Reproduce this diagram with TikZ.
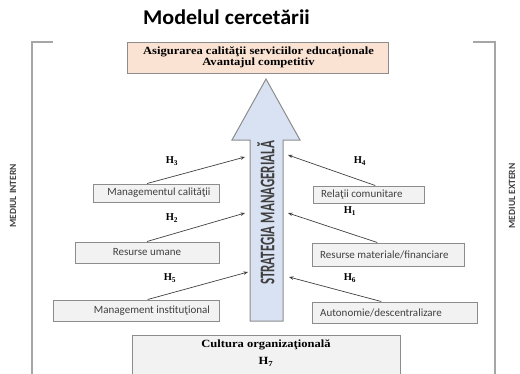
\documentclass[tikz,border=0pt]{standalone}
\usepackage{fontspec}
\setmainfont{Liberation Serif}
\newfontfamily\calfont{Carlito}
\usetikzlibrary{calc,arrows.meta}
\definecolor{boxgray}{HTML}{F2F2F2}
\definecolor{edgegray}{HTML}{8C8C8C}
\definecolor{peach}{HTML}{FBE3D4}
\definecolor{arrowblue}{HTML}{D9E2F2}
\definecolor{txtgray}{HTML}{404040}
\definecolor{linegray}{HTML}{A6A6A6}
\begin{document}
\begin{tikzpicture}[x=1pt,y=-1pt,
  smallbox/.style={draw=edgegray, line width=1pt, fill=boxgray, inner sep=0pt},
  boxtext/.style={font=\calfont\fontsize{11}{12}\selectfont, text=txtgray, inner sep=0pt},
  hlab/.style={font=\bfseries\fontsize{10.5}{11}\selectfont, inner sep=0pt},
  conn/.style={-{Stealth[length=4.5pt,width=3.5pt]}, line width=0.7pt, draw=black!75},
  sidelab/.style={rotate=90, font=\calfont\bfseries\fontsize{9.5}{10}\selectfont, text=txtgray, inner sep=0pt},
  bracket/.style={draw=linegray, line width=1.2pt}
]
\clip (0,0) rectangle (520,373);
\useasboundingbox (0,0) rectangle (520,373);

% title
\node[font=\calfont\bfseries\fontsize{21}{23}\selectfont, inner sep=0pt] (title) at (226.5,17) {\scalebox{1.05}[1]{Modelul cercetării}};

% brackets
\draw[bracket] (53,42) -- (32,42) -- (32,380);
\draw[bracket] (473,42) -- (495,42) -- (495,380);
\node[sidelab] (intern) at (13,196) {MEDIUL INTERN};
\node[sidelab] (extern) at (512,196) {MEDIUL EXTERN};

% top box
\node[draw=edgegray, line width=1pt, fill=peach, minimum width=261pt, minimum height=31pt, inner sep=0pt] (top) at (257.5,57.5) {};
\node[font=\bfseries\fontsize{11}{10}\selectfont, align=center, inner sep=0pt] (toptext) at (258.5,57.5) {\scalebox{1.14}[1]{Asigurarea calităţii serviciilor educaţionale}\\\scalebox{1.14}[1]{Avantajul competitiv}};

% big arrow
\draw[draw=edgegray, line width=1pt, fill=arrowblue] (250,321) -- (250,140) -- (232,140) -- (266,79) -- (300,140) -- (283,140) -- (283,321) -- cycle;
\node[rotate=90, font=\calfont\bfseries\fontsize{13}{14}\selectfont, text=txtgray, inner sep=0pt] (strat) at (266,213) {\scalebox{1}[1.6]{STRATEGIA MANAGERIALĂ}};

% tips on arrow
\coordinate (t3) at (245,157);
\coordinate (t2) at (245,213);
\coordinate (t5) at (248,272);
\coordinate (t4) at (288,155);
\coordinate (t1) at (288,213);
\coordinate (t6) at (289,277);

% left boxes
\node[smallbox, minimum width=126pt, minimum height=18pt] (mc) at (156,193) {};
\node[boxtext] (mct) at (159,193) {Managementul calităţii};
\node[smallbox, minimum width=144pt, minimum height=21pt] (ru) at (147,252.5) {};
\node[boxtext] (rut) at (147,252.5) {Resurse umane};
\node[smallbox, minimum width=166pt, minimum height=21pt] (mi) at (136,310.5) {};
\node[boxtext] (mit) at (152,310.5) {Management instituţional};

% right boxes
\node[smallbox, minimum width=111pt, minimum height=17pt] (rc) at (368.5,194.5) {};
\node[boxtext, anchor=west] (rct) at (321,194.5) {Relaţii comunitare};
\node[smallbox, minimum width=152pt, minimum height=23pt] (rm) at (388,254.5) {};
\node[boxtext, anchor=west] (rmt) at (320,254.5) {Resurse materiale/financiare};
\node[smallbox, minimum width=165pt, minimum height=21pt] (ad) at (394.5,312.5) {};
\node[boxtext, anchor=west] (adt) at (320,312.5) {Autonomie/descentralizare};

% connectors
\draw[conn] ($(mc.north west)!0.43!(mc.north east)$) -- (t3);
\draw[conn] ($(ru.north west)!0.5!(ru.north east)$) -- (t2);
\draw[conn] ($(mi.north west)!0.57!(mi.north east)$) -- (t5);
\draw[conn] ($(rc.north west)!0.56!(rc.north east)$) -- (t4);
\draw[conn] ($(rm.north west)!0.43!(rm.north east)$) -- (t1);
\draw[conn] ($(ad.north west)!0.42!(ad.north east)$) -- (t6);

% H labels
\node[hlab] (h3) at (172,161) {H\textsubscript{3}};
\node[hlab] (h2) at (172,218) {H\textsubscript{2}};
\node[hlab] (h5) at (170,278) {H\textsubscript{5}};
\node[hlab] (h4) at (360,161) {H\textsubscript{4}};
\node[hlab] (h1) at (350,211) {H\textsubscript{1}};
\node[hlab] (h6) at (350,278) {H\textsubscript{6}};

% bottom box
\node[smallbox, minimum width=268pt, minimum height=50pt] (cult) at (266,360) {};
\node[font=\bfseries\fontsize{11}{12}\selectfont, inner sep=0pt] (cultt) at (266,345) {\scalebox{1.14}[1]{Cultura organizaţională}};
\node[font=\bfseries\fontsize{11}{12}\selectfont, inner sep=0pt] (h7) at (266,362) {\scalebox{1.14}[1]{H\textsubscript{7}}};
\end{tikzpicture}
\end{document}
